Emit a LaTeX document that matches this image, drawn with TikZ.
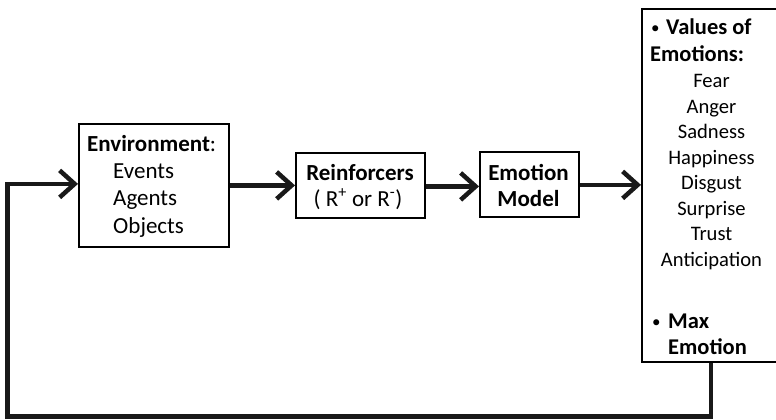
\documentclass[tikz,border=0pt]{standalone}
\usepackage{fontspec}
\setmainfont{Carlito}
\usetikzlibrary{arrows.meta}

\begin{document}
\begin{tikzpicture}[x=1pt, y=-1pt,
  box/.style={draw=black, line width=1.8pt, fill=white, inner sep=0pt, anchor=north west},
  conn/.style={line width=4.8pt, draw=black!90},
  flow/.style={conn, -{Straight Barb[length=15pt, width=27pt, line width=4.5pt]}},
  txt/.style={inner sep=0pt, font=\fontsize{#1}{26}\selectfont},
  lt/.style={txt=#1, anchor=base west},
  ct/.style={txt=#1, anchor=base},
  dot/.style={inner sep=0pt, anchor=base west, font=\fontsize{17}{20}\selectfont}]
  \useasboundingbox (0,0) rectangle (776,420);

  % blocks
  \node[box, minimum width=150pt, minimum height=123pt] (env) at (78,123) {};
  \node[box, minimum width=129pt, minimum height=65pt] (reinf) at (295,152) {};
  \node[box, minimum width=99pt, minimum height=65pt] (emo) at (479,151) {};
  \node[box, minimum width=140pt, minimum height=353pt] (vals) at (641,8) {};

  % environment text
  \node[lt=23] (envT) at (87,151) {\textbf{Environment}:};
  \node[lt=23] (envA) at (113,178) {Events};
  \node[lt=23] (envB) at (113,205) {Agents};
  \node[lt=23] (envC) at (113,233) {Objects};

  % reinforcers text
  \node[ct=23] (reT) at (360,180.5) {\textbf{Reinforcers}};
  \node[ct=23] (reS) at (358,206.5) {( R\textsuperscript{+} or R\textsuperscript{-})};

  % emotion model text
  \node[ct=23] (emT) at (528.5,180.5) {\textbf{Emotion}};
  \node[ct=23] (emS) at (528.5,206.5) {\textbf{Model}};

  % emotion values text
  \node[dot] (b1) at (651,34) {•};
  \node[lt=22.5] (v1) at (666,35) {\textbf{Values of}};
  \node[lt=22.5] (v2) at (650,62) {\textbf{Emotions:}};
  \node[ct=20.6] (e1) at (711.5,87) {Fear};
  \node[ct=20.6] (e2) at (711.5,113) {Anger};
  \node[ct=20.6] (e3) at (711.5,138) {Sadness};
  \node[ct=20.6] (e4) at (711.5,164) {Happiness};
  \node[ct=20.6] (e5) at (711.5,189) {Disgust};
  \node[ct=20.6] (e6) at (711.5,215) {Surprise};
  \node[ct=20.6] (e7) at (711.5,240) {Trust};
  \node[ct=20.6] (e8) at (711.5,266) {Anticipation};
  \node[dot] (b2) at (652,327) {•};
  \node[lt=22.5] (m1) at (668,328) {\textbf{Max}};
  \node[lt=22.5] (m2) at (668,354) {\textbf{Emotion}};

  % forward path
  \draw[flow] (env.east) -- (reinf.west);
  \draw[flow] ([yshift=-1pt]reinf.east) -- ([yshift=-1pt]reinf.east -| emo.west);
  \draw[flow] ([yshift=-0.5pt]emo.east) -- ([yshift=-0.5pt]emo.east -| vals.west);

  % feedback loop
  \coordinate (loop) at (7.5,416.5);
  \draw[flow] (vals.south -| 711,0) |- (loop) |- ([yshift=1.5pt]env.west);
\end{tikzpicture}
\end{document}
